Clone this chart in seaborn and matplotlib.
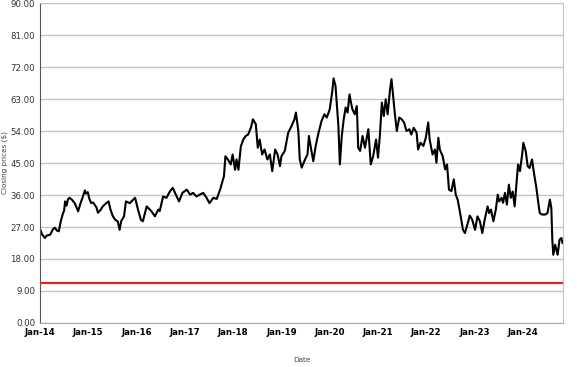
import numpy as np
import pandas as pd
import seaborn as sns
import matplotlib.pyplot as plt
import matplotlib.dates as mdates

# time in years since 1 Jan 2014
years = [0.01, 0.04, 0.10, 0.14, 0.21, 0.27, 0.31, 0.35, 0.39, 0.43, 0.48, 0.50, 0.52, 0.55,
         0.58, 0.61, 0.66, 0.72, 0.79, 0.84, 0.89, 0.93, 0.95, 0.99, 1.02, 1.06, 1.10, 1.17,
         1.20, 1.26, 1.30, 1.37, 1.42, 1.46, 1.51, 1.56, 1.61, 1.65, 1.68, 1.74, 1.78, 1.86,
         1.93, 1.97, 2.03, 2.09, 2.13, 2.21, 2.31, 2.38, 2.45, 2.48, 2.55, 2.62, 2.69, 2.75,
         2.83, 2.88, 2.95, 3.04, 3.11, 3.17, 3.24, 3.31, 3.38, 3.45, 3.51, 3.59, 3.66, 3.73,
         3.78, 3.81, 3.84, 3.89, 3.95, 3.99, 4.04, 4.07, 4.11, 4.16, 4.21, 4.26, 4.31, 4.37,
         4.41, 4.47, 4.51, 4.55, 4.60, 4.65, 4.71, 4.76, 4.81, 4.87, 4.92, 4.97, 5.00, 5.07,
         5.14, 5.21, 5.27, 5.30, 5.35, 5.38, 5.42, 5.49, 5.54, 5.57, 5.61, 5.66, 5.71, 5.76,
         5.83, 5.89, 5.94, 6.00, 6.05, 6.08, 6.12, 6.15, 6.18, 6.21, 6.25, 6.29, 6.33, 6.37,
         6.41, 6.44, 6.47, 6.52, 6.56, 6.57, 6.59, 6.63, 6.68, 6.73, 6.80, 6.85, 6.90, 6.96,
         7.00, 7.04, 7.08, 7.12, 7.16, 7.20, 7.25, 7.28, 7.31, 7.35, 7.39, 7.44, 7.49, 7.54,
         7.59, 7.65, 7.69, 7.74, 7.80, 7.83, 7.88, 7.94, 7.99, 8.04, 8.07, 8.13, 8.18, 8.21,
         8.25, 8.28, 8.34, 8.39, 8.43, 8.47, 8.52, 8.57, 8.61, 8.65, 8.70, 8.76, 8.80, 8.85,
         8.90, 8.95, 9.01, 9.06, 9.11, 9.16, 9.21, 9.27, 9.30, 9.34, 9.39, 9.44, 9.48, 9.51,
         9.56, 9.59, 9.63, 9.67, 9.71, 9.75, 9.79, 9.83, 9.86, 9.90, 9.94, 9.99, 10.01, 10.06,
         10.10, 10.14, 10.19, 10.23, 10.28, 10.32, 10.35, 10.40, 10.46, 10.51, 10.56, 10.59,
         10.61, 10.63, 10.67, 10.72, 10.76, 10.80, 10.82]

prices = [26.2, 25.0, 23.9, 24.6, 24.8, 26.4, 26.8, 26.0, 25.8, 28.6, 31.0, 31.6, 34.2, 33.0,
          34.8, 35.2, 34.7, 33.7, 31.4, 33.7, 35.6, 37.3, 36.4, 36.8, 35.0, 33.7, 33.9, 32.5,
          31.0, 31.9, 32.8, 33.7, 34.2, 31.9, 30.0, 29.0, 28.6, 26.2, 28.6, 30.0, 34.2, 33.7,
          34.7, 35.2, 31.9, 29.0, 28.6, 32.8, 31.4, 30.0, 31.9, 31.5, 35.6, 35.2, 37.0, 38.0,
          35.6, 34.2, 36.6, 37.5, 36.1, 36.6, 35.6, 36.1, 36.6, 35.2, 33.7, 35.2, 34.9, 37.5,
          39.9, 41.3, 46.9, 46.0, 44.6, 47.4, 43.1, 46.0, 43.1, 49.7, 51.6, 52.6, 53.0, 55.0,
          57.3, 55.9, 49.3, 51.6, 47.4, 48.8, 46.0, 47.4, 42.7, 48.8, 47.4, 44.1, 46.9, 48.4,
          53.5, 55.4, 57.3, 59.2, 54.0, 46.0, 43.7, 46.0, 47.4, 52.6, 49.3, 45.5, 49.8, 53.0,
          56.8, 58.7, 57.8, 60.1, 64.8, 68.8, 66.7, 61.0, 55.4, 44.6, 52.6, 57.3, 60.6, 59.2,
          64.3, 62.0, 60.1, 58.7, 61.0, 57.8, 49.3, 48.4, 52.6, 49.3, 54.5, 44.6, 46.9, 51.6,
          46.5, 53.0, 62.0, 58.2, 62.9, 58.7, 65.8, 68.6, 64.3, 58.7, 54.0, 57.8, 57.3, 56.4,
          54.0, 54.5, 53.0, 54.9, 53.5, 48.8, 50.7, 49.8, 52.1, 56.4, 51.6, 47.4, 48.8, 45.1,
          52.1, 48.8, 46.9, 43.2, 44.6, 37.5, 37.1, 40.4, 36.1, 34.7, 31.0, 26.2, 25.3, 27.6,
          30.2, 29.1, 26.2, 30.0, 28.6, 25.3, 29.1, 32.8, 30.9, 31.9, 28.6, 31.9, 36.1, 34.2,
          35.2, 33.8, 36.6, 33.3, 38.9, 35.2, 37.0, 32.8, 38.0, 44.6, 42.7, 47.9, 50.7, 48.3,
          44.1, 43.6, 46.0, 42.2, 38.0, 33.8, 30.9, 30.5, 30.5, 30.9, 34.7, 32.3,
          23.4, 19.2, 22.0, 19.2, 23.4, 23.9, 22.5]

threshold = 11.3
y_ticks = [0, 9, 18, 27, 36, 45, 54, 63, 72, 81, 90]
tick_years = list(range(2014, 2025))

start = pd.Timestamp('2014-01-01')
df = pd.DataFrame({
    'Date': start + pd.to_timedelta(np.array(years) * 365.25, unit='D'),
    'Close': prices,
})

sns.set_style('white')
plt.rcParams['font.family'] = ['DejaVu Sans']

fig = plt.figure(figsize=(5.77, 3.67), dpi=100)
ax = fig.add_axes([0.0693, 0.1199, 0.9064, 0.8719])

sns.lineplot(data=df, x='Date', y='Close', color='black', linewidth=1.5, ax=ax)
ax.axhline(threshold, color='#e8231e', linewidth=1.6, zorder=3)

ax.set_ylim(0, 90)
ax.set_xlim(pd.Timestamp('2014-01-01'), pd.Timestamp('2024-10-31'))
ax.set_yticks(y_ticks)
ax.set_yticklabels([f'{v:.2f}' for v in y_ticks])
ax.set_xticks([pd.Timestamp(f'{y}-01-01') for y in tick_years])
ax.xaxis.set_major_formatter(mdates.DateFormatter('%b-%y'))

ax.yaxis.grid(True, color='#c4c4c4', linewidth=1.0)
ax.set_axisbelow(True)
ax.tick_params(axis='both', labelsize=6.2, length=2, width=0.8, colors='#333333',
               pad=1.5)
ax.tick_params(axis='x', labelcolor='black')
for lab in ax.get_xticklabels():
    lab.set_fontweight('bold')

ax.spines['left'].set_color('#555555')
ax.spines['bottom'].set_color('#aaaaaa')
ax.spines['top'].set_color('#c4c4c4')
ax.spines['right'].set_color('#c4c4c4')

ax.set_xlabel('Date', fontsize=5.2, color='#444444')
ax.set_ylabel('Closing prices ($)', fontsize=5.2, color='#444444')
ax.xaxis.set_label_coords(0.5, -0.105)
ax.yaxis.set_label_coords(-0.061, 0.5)

fig.savefig('out.png', dpi=100)
